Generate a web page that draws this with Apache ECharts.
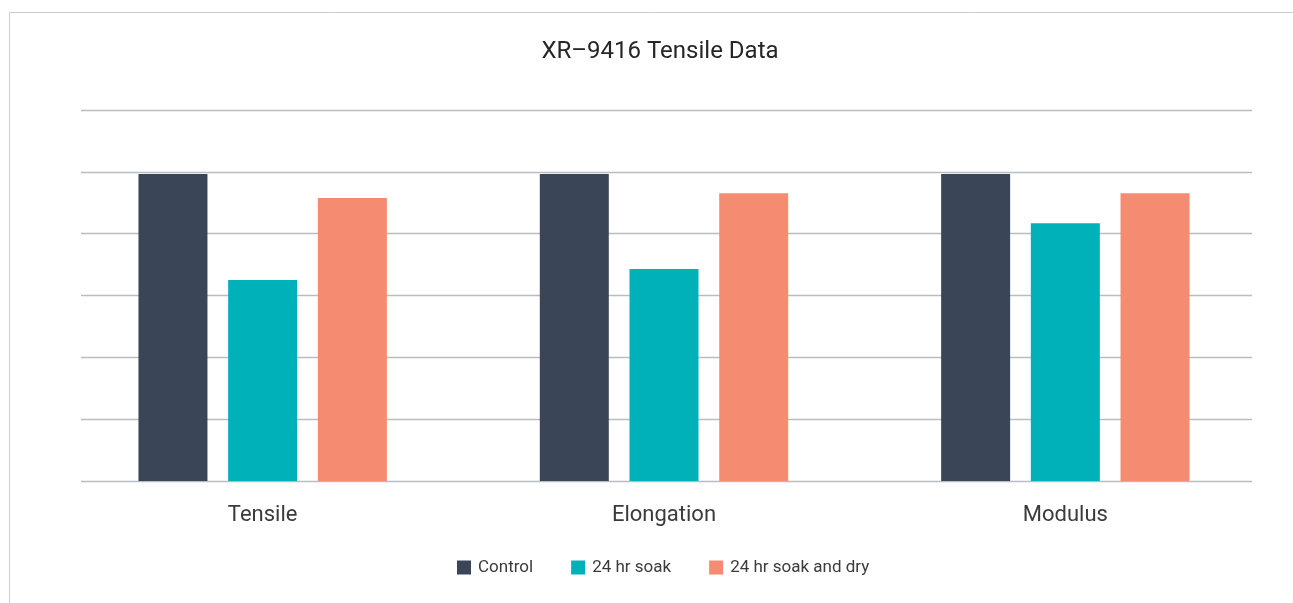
<!DOCTYPE html>
<html>
<head>
<meta charset="utf-8">
<title>XR–9416 Tensile Data</title>
<script src="https://cdn.jsdelivr.net/npm/echarts@6/dist/echarts.min.js"></script>
<style>
  html, body { margin: 0; padding: 0; background: #fff; }
  #main { width: 1293px; height: 603px; }
</style>
</head>
<body>
<div id="main"></div>
<script>
// data (percent of control)
const categories = ['Tensile', 'Elongation', 'Modulus']
const controlValues = [99.3, 99.3, 99.3]
const soakValues = [65.0, 68.6, 83.4]
const soakDryValues = [91.5, 93.1, 93.1]

const fontFamily = 'Roboto, "Noto Sans", sans-serif'
const textColor = '#3b3b3b'

const chart = echarts.init(document.getElementById('main'))

chart.setOption({
  animation: false,
  backgroundColor: '#fff',
  graphic: [{
    // light frame round the chart area
    type: 'rect',
    shape: { x: 9.5, y: 12.5, width: 1400, height: 700 },
    style: { fill: 'none', stroke: '#c9cdd2', lineWidth: 1 },
    silent: true
  }],
  title: {
    text: 'XR–9416 Tensile Data',
    left: 655,
    textAlign: 'center',
    top: 35,
    textStyle: { fontFamily, fontSize: 24, fontWeight: 'normal', color: '#262626' }
  },
  legend: {
    data: ['Control', '24 hr soak', '24 hr soak and dry'],
    left: 452,
    top: 554,
    icon: 'rect',
    itemWidth: 14,
    itemHeight: 14,
    itemGap: 38,
    textStyle: { fontFamily, fontSize: 17, color: textColor, padding: [0, 0, 0, 2] }
  },
  grid: [
    // grid 0 holds the bars, grid 1 only draws the gridlines
    { left: 62, right: 27, top: 110, bottom: 122 },
    { left: 81, right: 41, top: 110, bottom: 122 }
  ],
  xAxis: [
    {
      gridIndex: 0,
      type: 'category',
      data: categories,
      axisLine: { show: false },
      axisTick: { show: false },
      axisLabel: { fontFamily, fontSize: 22, color: textColor, margin: 23 }
    },
    {
      gridIndex: 1,
      type: 'category',
      data: categories,
      show: false
    }
  ],
  yAxis: [
    {
      gridIndex: 0,
      type: 'value',
      min: 0,
      max: 120,
      interval: 20,
      axisLabel: { show: false },
      axisLine: { show: false },
      axisTick: { show: false },
      splitLine: { show: false }
    },
    {
      gridIndex: 1,
      type: 'value',
      min: 0,
      max: 120,
      interval: 20,
      axisLabel: { show: false },
      axisLine: { show: false },
      axisTick: { show: false },
      splitLine: { show: true, lineStyle: { color: '#b8bdc4', width: 1.3 } }
    }
  ],
  series: [
    {
      name: 'Control',
      type: 'bar',
      data: controlValues,
      barWidth: 69,
      barGap: '30%',
      itemStyle: { color: '#3a4558' },
      z: 3
    },
    {
      name: '24 hr soak',
      type: 'bar',
      data: soakValues,
      barWidth: 69,
      barGap: '30%',
      itemStyle: { color: '#00b1b9' },
      z: 3
    },
    {
      name: '24 hr soak and dry',
      type: 'bar',
      data: soakDryValues,
      barWidth: 69,
      barGap: '30%',
      itemStyle: { color: '#f58b71' },
      z: 3
    }
  ]
})
</script>
</body>
</html>
